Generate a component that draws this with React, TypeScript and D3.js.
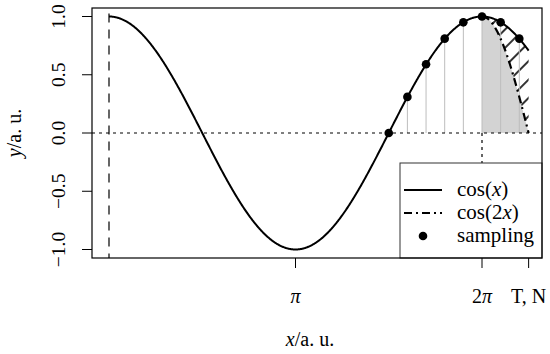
import React from "react";
import * as d3 from "d3";

// ---- data ----
const PI = Math.PI;
const T_END = 2.25 * PI; // "T, N"
const xTickValues = [PI, 2 * PI, T_END];
const xTickLabels = ["π", "2π", "T, N"];
const yTickValues = [-1, -0.5, 0, 0.5, 1];
const yTickLabels = ["−1.0", "−0.5", "0.0", "0.5", "1.0"];
// sampling points (in units of π) and their values
const sampleXpi = [1.5, 1.6, 1.7, 1.8, 1.9, 2.0, 2.1, 2.2];
const sampleY = [0.0, 0.31, 0.59, 0.81, 0.95, 1.0, 0.95, 0.81];
const legendLabels = ["cos(x)", "cos(2x)", "sampling"];

const W = 550, H = 354;
const box = { left: 92, right: 542, top: 8, bottom: 258 };

export default function App() {
  const x = d3.scaleLinear().domain([0, 2 * PI]).range([109, 482]);
  const y = d3.scaleLinear().domain([-1, 1]).range([249.5, 16.5]);

  const fine = d3.range(0, 801).map((i) => (i / 800) * T_END);
  const cos1 = d3.line<number>().x((t) => x(t)).y((t) => y(Math.cos(t)));
  const seg = d3.range(0, 201).map((i) => 2 * PI + (i / 200) * (T_END - 2 * PI));
  const cos2 = d3.line<number>().x((t) => x(t)).y((t) => y(Math.cos(2 * t)));

  const grayArea = d3
    .area<number>()
    .x((t) => x(t))
    .y0(() => y(0))
    .y1((t) => y(Math.cos(2 * t)));
  const hatchArea = d3
    .area<number>()
    .x((t) => x(t))
    .y0((t) => y(Math.cos(2 * t)))
    .y1((t) => y(Math.cos(t)));

  const font = "'Liberation Serif', 'Times New Roman', serif";
  const legX = 400, legY = 163;

  return (
    <svg width={W} height={H} style={{ position: "absolute", left: 0, top: 0, background: "#fff", fontFamily: font }}>
      <defs>
        <pattern id="hatch" patternUnits="userSpaceOnUse" width={13} height={13} patternTransform="rotate(45)">
          <line x1={1} y1={0} x2={1} y2={13} stroke="#000" strokeWidth={1.6} />
        </pattern>
        <clipPath id="plotclip">
          <rect x={box.left} y={box.top} width={box.right - box.left} height={box.bottom - box.top} />
        </clipPath>
      </defs>
      <rect width={W} height={H} fill="#fff" />
      <g clipPath="url(#plotclip)">
        <path d={grayArea(seg) || ""} fill="#d3d3d3" />
        <path d={hatchArea(seg) || ""} fill="url(#hatch)" />
        {sampleXpi.map((s, i) => (
          <line key={i} x1={x(s * PI)} x2={x(s * PI)} y1={y(0)} y2={y(sampleY[i])} stroke="#bdbdbd" strokeWidth={1} />
        ))}
        <line x1={box.left} x2={box.right} y1={y(0)} y2={y(0)} stroke="#000" strokeWidth={1.2} strokeDasharray="3,4" />
        <line x1={x(2 * PI)} x2={x(2 * PI)} y1={y(0)} y2={box.bottom} stroke="#000" strokeWidth={1.2} strokeDasharray="3,4" />
        <line x1={x(0)} x2={x(0)} y1={y(1) - 3} y2={box.bottom} stroke="#000" strokeWidth={1.2} strokeDasharray="9,7" />
        <path d={cos1(fine) || ""} fill="none" stroke="#000" strokeWidth={2} />
        <path d={cos2(seg) || ""} fill="none" stroke="#000" strokeWidth={2.2} strokeDasharray="8,4,2,4" />
        {sampleXpi.map((s, i) => (
          <circle key={i} cx={x(s * PI)} cy={y(sampleY[i])} r={4.3} fill="#000" />
        ))}
      </g>
      {/* legend */}
      <rect x={legX} y={legY} width={box.right - legX} height={box.bottom - legY} fill="#fff" stroke="#333" strokeWidth={1} />
      <line x1={404} x2={442} y1={190} y2={190} stroke="#000" strokeWidth={2} />
      <line x1={404} x2={442} y1={213} y2={213} stroke="#000" strokeWidth={2.2} strokeDasharray="8,4,2,4" />
      <circle cx={423} cy={236} r={4.3} fill="#000" />
      <text x={457} y={196} fontSize={21}>
        cos(<tspan fontStyle="italic">x</tspan>)
      </text>
      <text x={457} y={219} fontSize={21}>
        cos(2<tspan fontStyle="italic">x</tspan>)
      </text>
      <text x={457} y={242} fontSize={21}>
        {legendLabels[2]}
      </text>
      {/* plot box */}
      <rect x={box.left} y={box.top} width={box.right - box.left} height={box.bottom - box.top} fill="none" stroke="#000" strokeWidth={1.2} />
      {/* x axis ticks */}
      {xTickValues.map((v, i) => (
        <g key={i}>
          <line x1={x(v)} x2={x(v)} y1={box.bottom} y2={box.bottom + 10} stroke="#000" strokeWidth={1} />
          <text x={x(v)} y={303} fontSize={20} textAnchor="middle">
            {i === 0 ? <tspan fontStyle="italic">π</tspan> : i === 1 ? (<>2<tspan fontStyle="italic">π</tspan></>) : xTickLabels[i]}
          </text>
        </g>
      ))}
      {/* y axis ticks */}
      {yTickValues.map((v, i) => (
        <g key={i}>
          <line x1={box.left - 10} x2={box.left} y1={y(v)} y2={y(v)} stroke="#000" strokeWidth={1} />
          <text transform={`translate(65,${y(v)}) rotate(-90)`} fontSize={19.5} textAnchor="middle">
            {yTickLabels[i]}
          </text>
        </g>
      ))}
      {/* axis titles */}
      <text x={310} y={346} fontSize={20} textAnchor="middle">
        <tspan fontStyle="italic">x</tspan>/a. u.
      </text>
      <text transform={`translate(21,133) rotate(-90)`} fontSize={20} textAnchor="middle">
        <tspan fontStyle="italic">y</tspan>/a. u.
      </text>
    </svg>
  );
}
